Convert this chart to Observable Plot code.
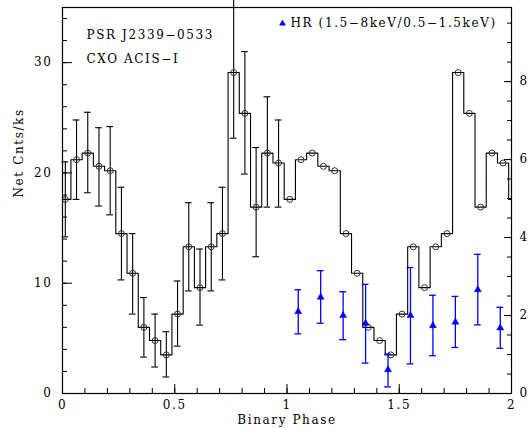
<!DOCTYPE html>
<html><head><meta charset="utf-8">
<script src="https://cdn.jsdelivr.net/npm/d3@7"></script>
<script src="https://cdn.jsdelivr.net/npm/@observablehq/plot@0.6"></script>
<style>html,body{margin:0;padding:0;background:#fff;}</style>
</head><body><div id="chart"></div>
<script>
// ---- data ----
const binPhase = [0.0125, 0.0625, 0.1125, 0.1625, 0.2125, 0.2625, 0.3125, 0.3625, 0.4125, 0.4625,
                  0.5125, 0.5625, 0.6125, 0.6625, 0.7125, 0.7625, 0.8125, 0.8625, 0.9125, 0.9625];
const counts     = [17.6, 21.2, 21.8, 20.6, 20.2, 14.5, 10.9, 6.0, 4.8, 3.5, 7.2, 13.3, 9.6, 13.3, 14.5, 29.1, 25.4, 16.9, 21.8, 20.9];
const countsLow  = [14.2, 17.6, 18.2, 17.0, 16.2, 10.3, 7.2, 3.3, 2.4, 1.5, 4.3, 9.3, 6.2, 9.3, 10.3, 23.15, 19.9, 12.4, 16.9, 16.9];
const countsHigh = [21.0, 24.8, 25.5, 24.1, 24.2, 18.7, 14.5, 8.7, 7.2, 5.6, 10.2, 17.3, 13.1, 17.3, 18.7, 35.8, 31.0, 22.3, 26.9, 24.8];
const cycles = [0, 1];

const hrPhase = [1.05, 1.15, 1.25, 1.35, 1.45, 1.55, 1.65, 1.75, 1.85, 1.95];
const hr      = [2.10, 2.47, 2.00, 1.80, 0.61, 2.00, 1.74, 1.83, 2.66, 1.68];
const hrLow   = [1.53, 1.80, 1.38, 0.78, 0.17, 0.76, 0.97, 1.18, 1.76, 1.16];
const hrHigh  = [2.66, 3.15, 2.61, 2.80, 1.01, 3.23, 2.52, 2.49, 3.57, 2.21];

const xMajorTicks = [0, 0.5, 1, 1.5, 2];
const xMinorTicks = [0,0.1,0.2,0.3,0.4,0.5,0.6,0.7,0.8,0.9,1,1.1,1.2,1.3,1.4,1.5,1.6,1.7,1.8,1.9,2];
const yMajorTicks = [0, 10, 20, 30];
const yMinorTicks = [0,2,4,6,8,10,12,14,16,18,20,22,24,26,28,30,32,34];
const hrMajorTicks = [0, 2, 4, 6, 8];
const hrMinorTicks = [0,0.5,1,1.5,2,2.5,3,3.5,4,4.5,5,5.5,6,6.5,7,7.5,8,8.5,9,9.5];

const yDomain = [0, 35];
const hrDomain = [0, 9.9];
const titleLines = ["PSR J2339\u22120533", "CXO ACIS\u2212I"];
const legendText = "HR (1.5\u22128keV/0.5\u22121.5keV)";
const xLabel = "Binary Phase";
const yLabel = "Net Cnts/ks";

// ---- derived tables ----
const k = yDomain[1] / hrDomain[1]; // HR -> left-axis units
const bins = cycles.flatMap(c => binPhase.map((p, i) => ({
  phase: p + c, value: counts[i], lo: countsLow[i], hi: countsHigh[i], cycle: c
})));
const firstCycle = bins.filter(d => d.cycle === 0);
const stepData = [
  {phase: binPhase[binPhase.length - 1] - 1, value: counts[counts.length - 1]},
  ...bins,
  {phase: binPhase[0] + 2, value: counts[0]}
];
const hrData = hrPhase.map((p, i) => ({phase: p, v: hr[i] * k, lo: hrLow[i] * k, hi: hrHigh[i] * k}));
const cap = 0.015;
const blue = "#0000ff";
const fmt = d3.format("~g");

const chart = Plot.plot({
  width: 531,
  height: 428,
  marginLeft: 62,
  marginRight: 20,
  marginTop: 7,
  marginBottom: 35,
  style: {fontFamily: "'DejaVu Serif', serif", fontSize: "12px", letterSpacing: "1.6px", background: "#fff", overflow: "visible", color: "#000"},
  x: {domain: [0, 2]},
  y: {domain: yDomain},
  marks: [
    // step light curve
    Plot.line(stepData, {x: "phase", y: "value", curve: "step", stroke: "#000", strokeWidth: 1.1, clip: true}),
    // error bars (first cycle)
    Plot.ruleX(firstCycle, {x: "phase", y1: "lo", y2: "hi", stroke: "#000", strokeWidth: 1.1}),
    Plot.ruleY(firstCycle, {y: "lo", x1: d => d.phase - cap, x2: d => d.phase + cap, stroke: "#000", strokeWidth: 1.1}),
    Plot.ruleY(firstCycle, {y: "hi", x1: d => d.phase - cap, x2: d => d.phase + cap, stroke: "#000", strokeWidth: 1.1}),
    Plot.dot(bins, {x: "phase", y: "value", r: 3, stroke: "#333", strokeWidth: 1, fill: "none"}),
    // hardness ratio
    Plot.ruleX(hrData, {x: "phase", y1: "lo", y2: "hi", stroke: blue, strokeWidth: 1.3}),
    Plot.ruleY(hrData, {y: "lo", x1: d => d.phase - cap, x2: d => d.phase + cap, stroke: blue, strokeWidth: 1.3}),
    Plot.ruleY(hrData, {y: "hi", x1: d => d.phase - cap, x2: d => d.phase + cap, stroke: blue, strokeWidth: 1.3}),
    Plot.dot(hrData, {x: "phase", y: "v", symbol: "triangle", r: 2.6, fill: blue, stroke: blue, strokeWidth: 0.5}),
    // axes
    Plot.axisX(xMinorTicks, {anchor: "bottom", tickSize: -5, tickFormat: () => "", label: null}),
    Plot.axisX(xMajorTicks, {anchor: "bottom", tickSize: -9, tickPadding: 16, label: null, tickFormat: fmt}),
    Plot.axisY(yMinorTicks, {anchor: "left", tickSize: -5, tickFormat: () => "", label: null}),
    Plot.axisY(yMajorTicks, {anchor: "left", tickSize: -10, tickPadding: 20, label: null, tickFormat: fmt}),
    Plot.axisY(hrMinorTicks.map(v => v * k), {anchor: "right", tickSize: -5, tickFormat: () => "", label: null}),
    Plot.axisY(hrMajorTicks.map(v => v * k), {anchor: "right", tickSize: -8, tickPadding: 16, label: null,
      tickFormat: d => fmt(Math.round(d / k * 10) / 10)}),
    Plot.frame({stroke: "#000", strokeWidth: 1.2}),
    // annotations
    Plot.text([titleLines[0]], {text: d => d, frameAnchor: "top-left", dx: 24, dy: 28, textAnchor: "start", lineAnchor: "middle", fill: "#000"}),
    Plot.text([titleLines[1]], {text: d => d, frameAnchor: "top-left", dx: 24, dy: 52, textAnchor: "start", lineAnchor: "middle", fill: "#000"}),
    Plot.dot([legendText], {frameAnchor: "top-left", dx: 220, dy: 16, symbol: "triangle", r: 2.2, fill: blue, stroke: blue, strokeWidth: 0.5}),
    Plot.text([legendText], {text: d => d, frameAnchor: "top-left", dx: 228, dy: 16, textAnchor: "start", lineAnchor: "middle", fill: "#000"}),
    Plot.text([xLabel], {text: d => d, frameAnchor: "bottom", dy: 27, lineAnchor: "middle", fill: "#000"}),
    Plot.text([yLabel], {text: d => d, frameAnchor: "left", dx: -43.5, dy: -3, rotate: -90, lineAnchor: "middle", fill: "#000"})
  ]
});
document.getElementById("chart").appendChild(chart);
</script></body></html>
